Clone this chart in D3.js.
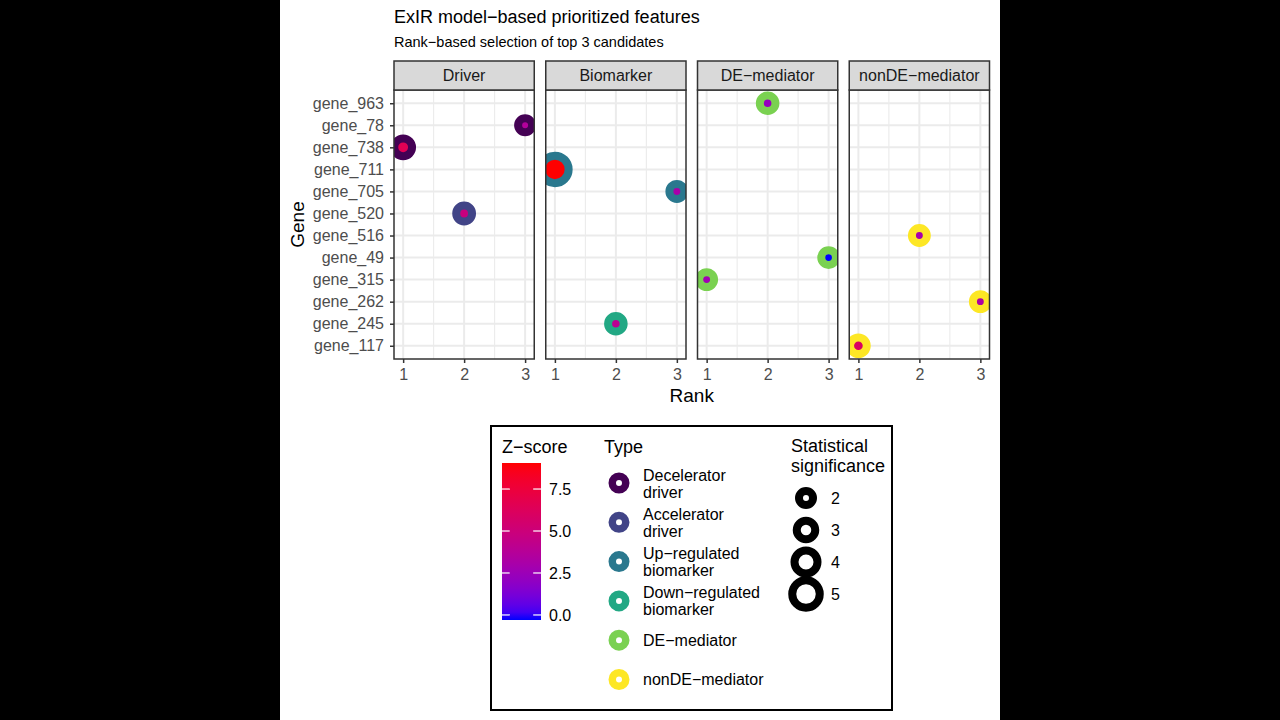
<!DOCTYPE html>
<html>
<head>
<meta charset="utf-8">
<script src="https://cdn.jsdelivr.net/npm/d3@7"></script>
<style>
  body { margin: 0; background: #000; }
  svg { display: block; font-family: "Liberation Sans", Arial, Helvetica, sans-serif; }
</style>
</head>
<body>
<svg id="chart" width="1280" height="720"></svg>
<script>
// genes, top to bottom
const genes = ["gene_963", "gene_78", "gene_738", "gene_711", "gene_705", "gene_520",
  "gene_516", "gene_49", "gene_315", "gene_262", "gene_245", "gene_117"];
const facets = ["Driver", "Biomarker", "DE\u2212mediator", "nonDE\u2212mediator"];
const rankTicks = [1, 2, 3];

const typeNames = ["Decelerator driver", "Accelerator driver", "Up\u2212regulated biomarker",
  "Down\u2212regulated biomarker", "DE\u2212mediator", "nonDE\u2212mediator"];
const typeColors = ["#440154", "#414487", "#2A788E", "#22A884", "#7AD151", "#FDE725"];

// one entry per point
const pointGene = ["gene_738", "gene_520", "gene_78", "gene_711", "gene_245", "gene_705",
  "gene_315", "gene_963", "gene_49", "gene_117", "gene_516", "gene_262"];
const pointFacet = [0, 0, 0, 1, 1, 1, 2, 2, 2, 3, 3, 3];
const pointRank = [1, 2, 3, 1, 2, 3, 1, 2, 3, 1, 2, 3];
const pointType = [0, 1, 0, 2, 3, 2, 4, 4, 4, 5, 5, 5];
const pointZ = [6.5, 4.8, 3.6, 9.05, 4.0, 3.0, 2.7, 2.2, -0.3, 6.0, 3.0, 3.3];
const pointSig = [2.85, 2.4, 2.0, 5.0, 2.35, 2.2, 2.2, 2.35, 2.15, 2.6, 2.2, 2.2];

const zTicks = [0, 2.5, 5, 7.5];
const sigBreaks = [2, 3, 4, 5];

const points = pointGene.map((g, i) => ({
  gene: g, facet: pointFacet[i], rank: pointRank[i], type: pointType[i],
  z: pointZ[i], sig: pointSig[i]
}));

const svg = d3.select("#chart");
svg.append("rect").attr("x", 280).attr("y", 0).attr("width", 720).attr("height", 720).attr("fill", "#fff");

// titles
svg.append("text").attr("x", 394).attr("y", 23).attr("font-size", 18)
  .text("ExIR model\u2212based prioritized features");
svg.append("text").attr("x", 394).attr("y", 47).attr("font-size", 14.5)
  .text("Rank\u2212based selection of top 3 candidates");

// panel geometry
const panelLeft = 394, panelRight = 989.5, gap = 11.5;
const panelW = (panelRight - panelLeft - 3 * gap) / 4;
const panelTop = 90, panelBottom = 359, stripTop = 61;

const x = d3.scaleLinear().domain([0.85, 3.15]).range([0, panelW]);
const y = d3.scalePoint().domain(genes).range([panelTop, panelBottom]).padding(0.6);
const zExtent = d3.extent(pointZ);
const zColor = d3.scaleLinear().domain(zExtent).range(["blue", "red"]).interpolate(d3.interpolateLab);
const rScale = d3.scaleLinear().domain([2, 5]).range([7, 13.75]);

const defs = svg.append("defs");

facets.forEach((f, i) => {
  const g = svg.append("g").attr("transform", `translate(${panelLeft + i * (panelW + gap)},0)`);

  g.append("rect").attr("y", panelTop).attr("width", panelW).attr("height", panelBottom - panelTop)
    .attr("fill", "#fff");

  // minor grid
  g.selectAll(".minor").data([1.5, 2.5]).join("line")
    .attr("x1", d => x(d)).attr("x2", d => x(d))
    .attr("y1", panelTop).attr("y2", panelBottom)
    .attr("stroke", "#EBEBEB").attr("stroke-width", 1.1);
  // major grid
  g.selectAll(".vmajor").data(rankTicks).join("line")
    .attr("x1", d => x(d)).attr("x2", d => x(d))
    .attr("y1", panelTop).attr("y2", panelBottom)
    .attr("stroke", "#EBEBEB").attr("stroke-width", 2);
  g.selectAll(".hmajor").data(genes).join("line")
    .attr("x1", 0).attr("x2", panelW)
    .attr("y1", d => y(d)).attr("y2", d => y(d))
    .attr("stroke", "#EBEBEB").attr("stroke-width", 2);

  defs.append("clipPath").attr("id", "clip" + i)
    .append("rect").attr("y", panelTop).attr("width", panelW).attr("height", panelBottom - panelTop);

  g.append("g").attr("clip-path", `url(#clip${i})`)
    .selectAll("circle").data(points.filter(p => p.facet === i)).join("circle")
    .attr("cx", d => x(d.rank)).attr("cy", d => y(d.gene))
    .attr("r", d => rScale(d.sig))
    .attr("fill", d => zColor(d.z))
    .attr("stroke", d => typeColors[d.type])
    .attr("stroke-width", 8);

  g.append("rect").attr("y", panelTop).attr("width", panelW).attr("height", panelBottom - panelTop)
    .attr("fill", "none").attr("stroke", "#333").attr("stroke-width", 1.5);

  // strip
  g.append("rect").attr("y", stripTop).attr("width", panelW).attr("height", panelTop - stripTop)
    .attr("fill", "#D9D9D9").attr("stroke", "#333").attr("stroke-width", 1.5);
  g.append("text").attr("x", panelW / 2).attr("y", 81).attr("text-anchor", "middle")
    .attr("font-size", 16).attr("fill", "#1A1A1A").text(f);

  // x axis
  const xa = g.append("g").attr("transform", `translate(0,${panelBottom})`)
    .call(d3.axisBottom(x).tickValues(rankTicks).tickFormat(d3.format("d")).tickSize(4).tickPadding(5.5));
  xa.select(".domain").remove();
  xa.selectAll("line").attr("stroke", "#333").attr("stroke-width", 1.5);
  xa.selectAll("text").attr("font-size", 16).attr("fill", "#4D4D4D").attr("font-family", null);

  if (i === 0) {
    const ya = g.append("g").call(d3.axisLeft(y).tickSize(4).tickPadding(6));
    ya.select(".domain").remove();
    ya.selectAll("line").attr("stroke", "#333").attr("stroke-width", 1.5);
    ya.selectAll("text").attr("font-size", 16).attr("fill", "#4D4D4D").attr("font-family", null);
  }
});

// axis titles
svg.append("text").attr("x", (panelLeft + panelRight) / 2).attr("y", 402).attr("text-anchor", "middle")
  .attr("font-size", 19).text("Rank");
svg.append("text").attr("transform", `translate(304,${(panelTop + panelBottom) / 2}) rotate(-90)`)
  .attr("text-anchor", "middle").attr("font-size", 19).text("Gene");

// legend box
const lg = svg.append("g");
lg.append("rect").attr("x", 491).attr("y", 426).attr("width", 401).attr("height", 284)
  .attr("fill", "#fff").attr("stroke", "#000").attr("stroke-width", 2);

// Z-score colourbar
lg.append("text").attr("x", 502).attr("y", 453).attr("font-size", 18).text("Z\u2212score");
const barX = 502, barW = 39, barTop = 463, barBottom = 620;
const zy = d3.scaleLinear().domain(zExtent).range([barBottom, barTop]);
const grad = defs.append("linearGradient").attr("id", "zgrad")
  .attr("x1", 0).attr("y1", 1).attr("x2", 0).attr("y2", 0);
d3.range(0, 1.0001, 0.05).forEach(t => {
  grad.append("stop").attr("offset", t)
    .attr("stop-color", zColor(zExtent[0] + t * (zExtent[1] - zExtent[0])));
});
lg.append("rect").attr("x", barX).attr("y", barTop).attr("width", barW).attr("height", barBottom - barTop)
  .attr("fill", "url(#zgrad)");
zTicks.forEach(v => {
  const yy = zy(v);
  lg.append("line").attr("x1", barX).attr("x2", barX + barW / 5).attr("y1", yy).attr("y2", yy)
    .attr("stroke", "#fff").attr("stroke-width", 1.2);
  lg.append("line").attr("x1", barX + barW * 4 / 5).attr("x2", barX + barW).attr("y1", yy).attr("y2", yy)
    .attr("stroke", "#fff").attr("stroke-width", 1.2);
  lg.append("text").attr("x", 549).attr("y", yy + 5.7).attr("font-size", 16).text(d3.format(".1f")(v));
});

// Type legend
lg.append("text").attr("x", 604).attr("y", 453).attr("font-size", 18).text("Type");
typeNames.forEach((t, i) => {
  const cy = 483 + i * 39.3;
  lg.append("circle").attr("cx", 619).attr("cy", cy).attr("r", 6.75)
    .attr("fill", "#fff").attr("stroke", typeColors[i]).attr("stroke-width", 7.5);
  const words = t.split(" ");
  const tx = lg.append("text").attr("x", 643).attr("font-size", 16);
  if (words.length > 1) {
    tx.attr("y", cy - 2.5);
    words.forEach((w, k) => tx.append("tspan").attr("x", 643).attr("dy", k ? 17 : 0).text(w));
  } else {
    tx.attr("y", cy + 5.7).text(t);
  }
});

// significance legend
lg.append("text").attr("x", 791).attr("y", 452).attr("font-size", 18).text("Statistical");
lg.append("text").attr("x", 791).attr("y", 472).attr("font-size", 18).text("significance");
sigBreaks.forEach((v, i) => {
  const cy = 498 + i * 32;
  lg.append("circle").attr("cx", 806).attr("cy", cy).attr("r", rScale(v))
    .attr("fill", "#fff").attr("stroke", "#000").attr("stroke-width", 8);
  lg.append("text").attr("x", 831).attr("y", cy + 5.7).attr("font-size", 16).text(v);
});
</script>
</body>
</html>
